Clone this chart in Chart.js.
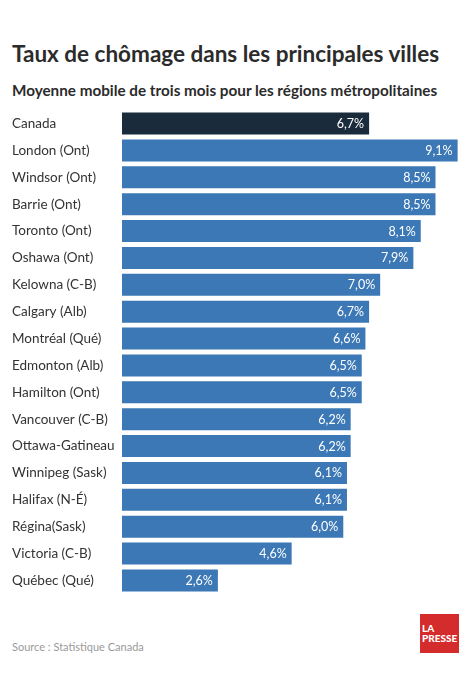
<!DOCTYPE html>
<html><head><meta charset="utf-8">
<script src="https://cdn.jsdelivr.net/npm/chart.js@4"></script>
<style>
html,body{margin:0;padding:0;background:#fff;width:471px;height:680px;overflow:hidden;font-family:Lato,sans-serif;}
.t{position:absolute;left:12px;white-space:nowrap;line-height:1;}
#title{top:43px;font-size:22.5px;font-weight:bold;color:#2b2b2b;}
#sub{top:83px;font-size:15.25px;font-weight:bold;color:#2b2b2b;}
#src{top:641px;font-size:11px;color:#9a9a9a;}
#logo{position:absolute;left:420px;top:614px;width:39px;height:39px;background:#d42b2c;color:#fff;font-weight:900;font-size:10px;line-height:10px;}
#logo span{position:absolute;left:2px;}
#wrap{position:absolute;left:0;top:102px;width:471px;height:500px;}
</style></head>
<body>
<div id="title" class="t">Taux de chômage dans les principales villes</div>
<div id="sub" class="t">Moyenne mobile de trois mois pour les régions métropolitaines</div>
<div id="wrap"><canvas id="c"></canvas></div>
<div id="src" class="t">Source : Statistique Canada</div>
<div id="logo"><span style="top:9px">LA</span><span style="top:19px">PRESSE</span></div>
<script>
const categories = ["Canada","London (Ont)","Windsor (Ont)","Barrie (Ont)","Toronto (Ont)","Oshawa (Ont)","Kelowna (C-B)","Calgary (Alb)","Montréal (Qué)","Edmonton (Alb)","Hamilton (Ont)","Vancouver (C-B)","Ottawa-Gatineau","Winnipeg (Sask)","Halifax (N-É)","Régina(Sask)","Victoria (C-B)","Québec (Qué)"];
const rates = [6.7,9.1,8.5,8.5,8.1,7.9,7.0,6.7,6.6,6.5,6.5,6.2,6.2,6.1,6.1,6.0,4.6,2.6];

const barColors = categories.map((c,i)=> i===0 ? '#1a2b3c' : '#3b78b5');

const valueLabels = {
  id:'valueLabels',
  afterDatasetsDraw(chart){
    const ctx = chart.ctx;
    const meta = chart.getDatasetMeta(0);
    ctx.save();
    ctx.font = '12.5px Lato';
    ctx.fillStyle = '#ffffff';
    ctx.textAlign = 'right';
    ctx.textBaseline = 'middle';
    meta.data.forEach((bar,i)=>{
      const txt = rates[i].toFixed(1).replace('.',',') + '%';
      ctx.fillText(txt, bar.x - 5, bar.y + 0.5);
    });
    ctx.restore();
  }
};

new Chart(document.getElementById('c'),{
  type:'bar',
  data:{labels:categories,datasets:[{data:rates,backgroundColor:barColors,borderWidth:0,barPercentage:0.82,categoryPercentage:1}]},
  options:{
    indexAxis:'y',
    responsive:true,maintainAspectRatio:false,animation:false,
    layout:{padding:{left:12,right:6,top:0,bottom:0}},
    plugins:{legend:{display:false},tooltip:{enabled:false}},
    scales:{
      x:{display:false,min:0,max:9.3},
      y:{
        grid:{display:false},border:{display:false},
        ticks:{crossAlign:'far',color:'#333333',font:{family:'Lato',size:13.5},padding:0},
        afterFit(s){s.width=110;}
      }
    }
  },
  plugins:[valueLabels]
});
</script>
</body></html>
